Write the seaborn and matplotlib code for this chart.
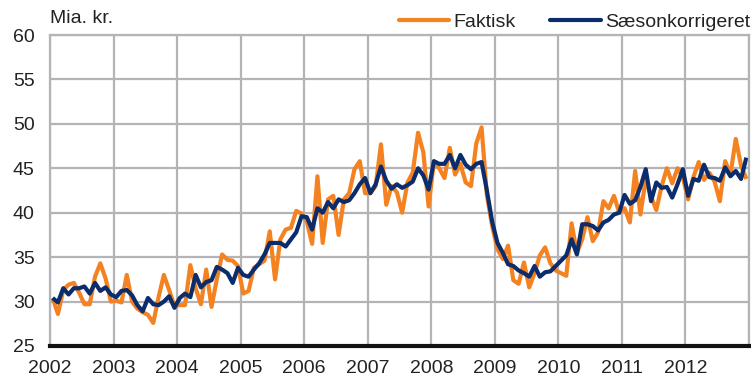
import numpy as np
import pandas as pd
import matplotlib
matplotlib.use("Agg")
import matplotlib.pyplot as plt
from matplotlib import font_manager
import seaborn as sns

# Monthly values, mia. kr., January 2002 - December 2012
years = list(range(2002, 2013))
faktisk = [
    30.4, 28.6, 31.3, 31.9, 32.1, 31.0, 29.7, 29.7, 32.8, 34.3, 32.6, 30.0,  # 2002
    30.1, 29.9, 33.0, 30.0, 29.2, 28.8, 28.5, 27.6, 30.5, 33.0, 31.3, 29.5,  # 2003
    29.6, 29.6, 34.1, 31.5, 29.7, 33.6, 29.4, 32.5, 35.3, 34.7, 34.6, 34.0,  # 2004
    30.9, 31.2, 33.8, 34.2, 34.6, 37.9, 32.5, 37.0, 38.1, 38.3, 40.2, 39.9,  # 2005
    39.0, 36.5, 44.1, 36.6, 41.5, 41.9, 37.5, 41.5, 42.2, 44.9, 45.8, 42.2,  # 2006
    42.2, 43.0, 47.7, 40.9, 43.0, 42.3, 40.0, 43.4, 44.5, 49.0, 46.8, 40.7,  # 2007
    45.8, 45.0, 43.9, 47.3, 44.3, 45.5, 43.4, 43.0, 47.8, 49.6, 42.0, 38.5,  # 2008
    35.9, 34.8, 36.3, 32.4, 32.0, 34.4, 31.6, 33.2, 35.2, 36.1, 34.3, 33.5,  # 2009
    33.2, 32.9, 38.8, 35.5, 37.0, 39.5, 36.8, 37.8, 41.3, 40.5, 41.9, 40.0,  # 2010
    40.5, 38.9, 44.7, 39.8, 43.8, 41.8, 40.3, 43.0, 45.0, 43.3, 45.0, 44.0,  # 2011
    41.5, 44.0, 45.7, 43.7, 44.5, 43.5, 41.3, 45.8, 44.3, 48.3, 45.3, 43.8,  # 2012
]
saesonkorrigeret = [
    30.4, 29.9, 31.5, 30.8, 31.5, 31.5, 31.7, 30.9, 32.1, 31.2, 31.6, 30.8,  # 2002
    30.5, 31.2, 31.3, 30.7, 29.6, 28.9, 30.4, 29.7, 29.6, 30.0, 30.6, 29.3,  # 2003
    30.4, 30.9, 30.5, 33.0, 31.6, 32.2, 32.4, 33.9, 33.6, 33.2, 32.1, 33.8,  # 2004
    33.0, 32.8, 33.6, 34.3, 35.3, 36.6, 36.6, 36.6, 36.2, 37.0, 37.8, 39.6,  # 2005
    39.5, 38.1, 40.5, 40.0, 41.2, 40.5, 41.5, 41.2, 41.4, 42.2, 43.2, 43.9,  # 2006
    42.2, 43.2, 45.2, 43.6, 42.7, 43.2, 42.8, 43.1, 43.5, 45.0, 44.2, 42.6,  # 2007
    45.8, 45.5, 45.5, 46.5, 45.0, 46.5, 45.4, 44.9, 45.5, 45.7, 42.5, 39.0,  # 2008
    36.6, 35.5, 34.2, 34.0, 33.5, 33.2, 32.8, 34.0, 32.8, 33.3, 33.4, 34.0,  # 2009
    34.6, 35.2, 37.0, 35.3, 38.7, 38.7, 38.5, 38.0, 38.9, 39.2, 39.8, 40.0,  # 2010
    42.0, 41.0, 41.4, 42.9, 44.9, 41.3, 43.4, 42.8, 42.9, 41.7, 43.2, 44.9,  # 2011
    41.9, 43.8, 43.6, 45.4, 44.0, 43.9, 43.6, 45.1, 44.1, 44.7, 43.8, 46.2,  # 2012
]
series_names = ["Faktisk", "Sæsonkorrigeret"]
series_colors = ["#F58220", "#0C2D6B"]
y_ticks = [25, 30, 35, 40, 45, 50, 55, 60]
unit_label = "Mia. kr."

# Month midpoints as fractional years
dates = pd.date_range("2002-01-01", periods=len(faktisk), freq="MS")
t = dates.year + (dates.month - 0.5) / 12.0

df = pd.concat([
    pd.DataFrame({"t": t, "value": faktisk, "serie": series_names[0]}),
    pd.DataFrame({"t": t, "value": saesonkorrigeret, "serie": series_names[1]}),
], ignore_index=True)

sns.set_style("white")
installed = {f.name for f in font_manager.fontManager.ttflist}
if "Liberation Sans Narrow" in installed:
    font_list = ["Liberation Sans Narrow", "DejaVu Sans"]
    fs = 15
else:
    font_list = ["Liberation Sans", "DejaVu Sans"]
    fs = 14
plt.rcParams["font.family"] = font_list
plt.rcParams["text.color"] = "#222222"

fig = plt.figure(figsize=(7.51, 3.82), dpi=100)
ax = fig.add_axes([50 / 751, 1 - 346 / 382, 699 / 751, 311 / 382])

sns.lineplot(data=df, x="t", y="value", hue="serie", hue_order=series_names,
             palette=series_colors, linewidth=3.0, ax=ax, legend=False,
             estimator=None, sort=False)
for line in ax.lines:
    line.set_solid_joinstyle("round")
    line.set_solid_capstyle("butt")

ax.set_xlim(2002, 2013)
ax.set_ylim(25, 60)
ax.set_xticks(list(range(2002, 2014)))
ax.set_xticklabels([str(y) for y in years] + [""])
ax.set_yticks(y_ticks)
ax.set_yticklabels([str(v) for v in y_ticks])
ax.set_xlabel("")
ax.set_ylabel("")

grid_color = "#B4B4B8"
ax.grid(True, color=grid_color, linewidth=1.6)
ax.set_axisbelow(True)
for side in ["left", "top", "right"]:
    ax.spines[side].set_color(grid_color)
    ax.spines[side].set_linewidth(1.6)
ax.spines["bottom"].set_color("#111111")
ax.spines["bottom"].set_linewidth(3.0)
ax.spines["bottom"].set_zorder(5)

ax.tick_params(axis="both", length=0, labelsize=fs, colors="#222222")
ax.tick_params(axis="y", pad=11)
ax.tick_params(axis="x", pad=10)

ax.text(0.0, 1.025, unit_label, transform=ax.transAxes, ha="left", va="bottom",
        fontsize=fs)

handles = [plt.Line2D([], [], color=c, linewidth=3.0) for c in series_colors]
fig.legend(handles, series_names, loc="center right",
           bbox_to_anchor=(750 / 751, 1 - 22 / 382),
           ncol=2, frameon=False, fontsize=fs, handlelength=2.6,
           handletextpad=0.2, columnspacing=1.8, borderaxespad=0.0,
           borderpad=0.0)

fig.savefig("out.png", dpi=100)
